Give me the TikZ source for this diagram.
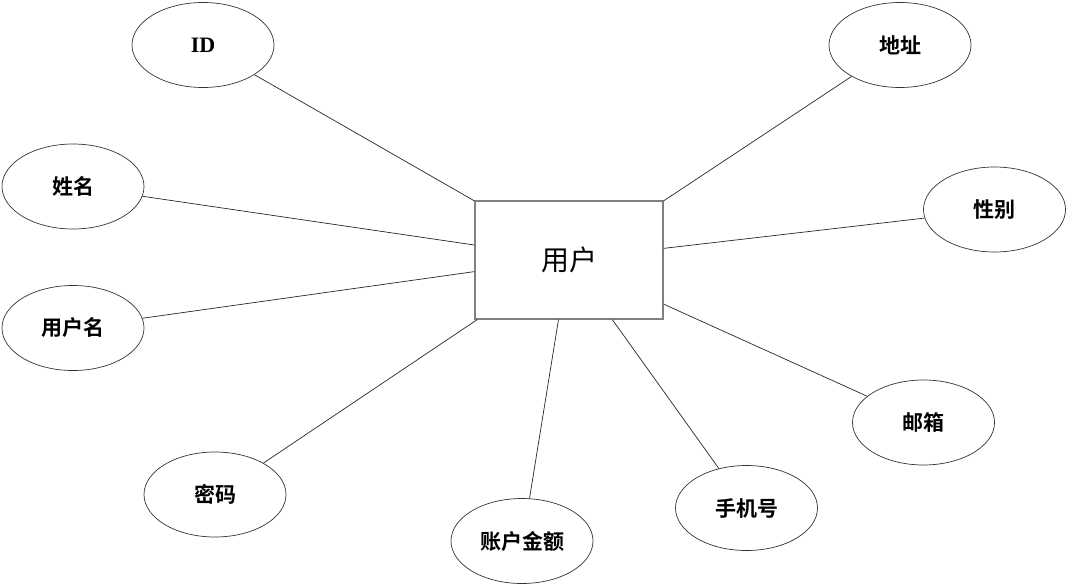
\documentclass[tikz,border=0pt]{standalone}
\usepackage{fontspec}
\setmainfont{Liberation Serif}
\newfontfamily\cjk{Noto Sans CJK SC}
\newfontfamily\cjkb{Noto Sans CJK SC Bold}
\usetikzlibrary{shapes.geometric}
\begin{document}
\begin{tikzpicture}[x=1pt,y=-1pt,
  attr/.style={ellipse,draw=black!80,line width=0.7pt,minimum width=142pt,minimum height=85pt,inner sep=0pt,font=\cjkb\fontsize{21}{24}\selectfont},
  ent/.style={rectangle,draw=black!50,line width=1.4pt,minimum width=188pt,minimum height=118pt,inner sep=0pt,font=\cjk\fontsize{28}{31}\selectfont},
  link/.style={draw=black!85,line width=0.7pt}]
\useasboundingbox (0,0) rectangle (1067,586);
\node[ent] (u) at (569,260) {用户};
\node[attr,font=\bfseries\fontsize{22}{24}\selectfont] (id) at (203,45) {ID};
\node[attr] (dz) at (900,45) {地址};
\node[attr] (xm) at (73,186.5) {姓名};
\node[attr] (xb) at (994.5,209.5) {性别};
\node[attr] (yhm) at (73,328) {用户名};
\node[attr] (yx) at (923.5,422.5) {邮箱};
\node[attr] (mm) at (215,494.5) {密码};
\node[attr] (zh) at (522,541) {账户金额};
\node[attr] (sj) at (746.5,508) {手机号};
\draw[link] (id.-30.5) -- (u.148.8);
\draw[link] (dz.213.1) -- (u.32.3);
\draw[link] (xm.-8.5) -- (u.171.5);
\draw[link] (xb.187.8) -- (u.7.3);
\draw[link] (yhm.8.1) -- (u.187.9);
\draw[link] (yx.155.3) -- (u.-25.1);
\draw[link] (mm.33.3) -- (u.213.2);
\draw[link] (zh.80.8) -- (u.260.4);
\draw[link] (sj.125.5) -- (u.306.1);
\end{tikzpicture}
\end{document}
